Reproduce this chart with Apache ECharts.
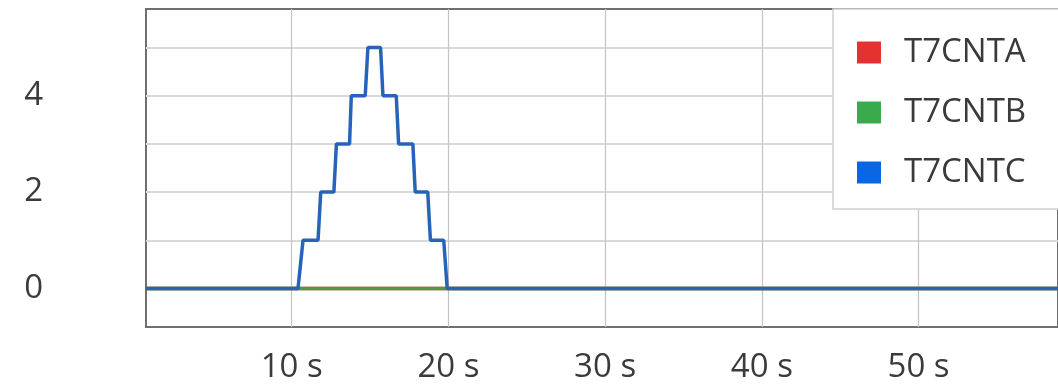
<!DOCTYPE html>
<html>
<head>
<meta charset="utf-8">
<script src="https://cdn.jsdelivr.net/npm/echarts@6/dist/echarts.min.js"></script>
<style>html,body{margin:0;padding:0;background:#fff;}#c{width:1058px;height:384px;}</style>
</head>
<body>
<div id="c"></div>
<script>
const seriesNames = ['T7CNTA', 'T7CNTB', 'T7CNTC'];
const timeA = [0.7, 58.9];
const valuesA = [0, 0];
const timeB = [0.7, 58.9];
const valuesB = [0, 0];
const timeC = [0.7, 10.40, 10.72, 11.68, 11.85, 12.69, 12.85, 13.69, 13.80, 14.69, 14.86, 15.67, 15.82, 16.67, 16.82, 17.73, 17.88, 18.68, 18.85, 19.70, 19.92, 58.9];
const valuesC = [0, 0, 1, 1, 2, 2, 3, 3, 4, 4, 5, 5, 4, 4, 3, 3, 2, 2, 1, 1, 0, 0];
const xTickValues = [10, 20, 30, 40, 50];
const xTickLabels = ['10 s', '20 s', '30 s', '40 s', '50 s'];
const yTickValues = [0, 1, 2, 3, 4, 5];
const yLabelValues = [0, 2, 4];

const pairs = (t, v) => t.map((x, i) => [x, v[i]]);
const font = "'Open Sans', 'Noto Sans', sans-serif";

const chart = echarts.init(document.getElementById('c'));
chart.setOption({
  animation: false,
  backgroundColor: '#fff',
  grid: {
    left: 146, top: 9, right: -4, bottom: 57,
    show: true, borderColor: '#707070', borderWidth: 2, backgroundColor: 'transparent'
  },
  legend: {
    orient: 'vertical',
    left: 833, top: 9,
    padding: [27, 40, 20, 24],
    itemWidth: 24, itemHeight: 22, itemGap: 27,
    icon: 'rect',
    backgroundColor: '#fff',
    borderColor: '#cfcfcf', borderWidth: 1.5,
    data: seriesNames,
    textStyle: { fontFamily: font, fontSize: 33, color: '#3a3a3a', padding: [0, 0, 0, 18] }
  },
  xAxis: {
    type: 'value', min: 0.7, max: 58.9,
    axisLine: { show: false },
    axisTick: { show: false, customValues: xTickValues },
    splitLine: { show: true, lineStyle: { color: '#c4c4c4', width: 1.2 } },
    axisLabel: {
      customValues: xTickValues,
      fontFamily: font, fontSize: 33, color: '#3a3a3a', margin: 24,
      formatter: v => { const i = xTickValues.indexOf(v); return i >= 0 ? xTickLabels[i] : ''; }
    }
  },
  yAxis: {
    type: 'value', min: -0.8, max: 5.8,
    axisLine: { show: false },
    axisTick: { show: false, customValues: yTickValues },
    splitLine: { show: true, lineStyle: { color: '#d9d9d9', width: 2 } },
    axisLabel: {
      customValues: yLabelValues,
      fontFamily: font, fontSize: 33, color: '#3a3a3a', margin: 103,
      formatter: v => String(v)
    }
  },
  series: [
    { name: seriesNames[0], type: 'line', showSymbol: false, symbol: 'none',
      itemStyle: { color: '#e43232' }, lineStyle: { color: '#d83a34', width: 3.5 },
      data: pairs(timeA, valuesA) },
    { name: seriesNames[1], type: 'line', showSymbol: false, symbol: 'none',
      itemStyle: { color: '#3aaa4c' }, lineStyle: { color: '#4f9a45', width: 3.5 },
      data: pairs(timeB, valuesB) },
    { name: seriesNames[2], type: 'line', showSymbol: false, symbol: 'none',
      itemStyle: { color: '#0b66e4' }, lineStyle: { color: '#2763b8', width: 3.5 },
      data: pairs(timeC, valuesC) }
  ]
});
</script>
</body>
</html>
